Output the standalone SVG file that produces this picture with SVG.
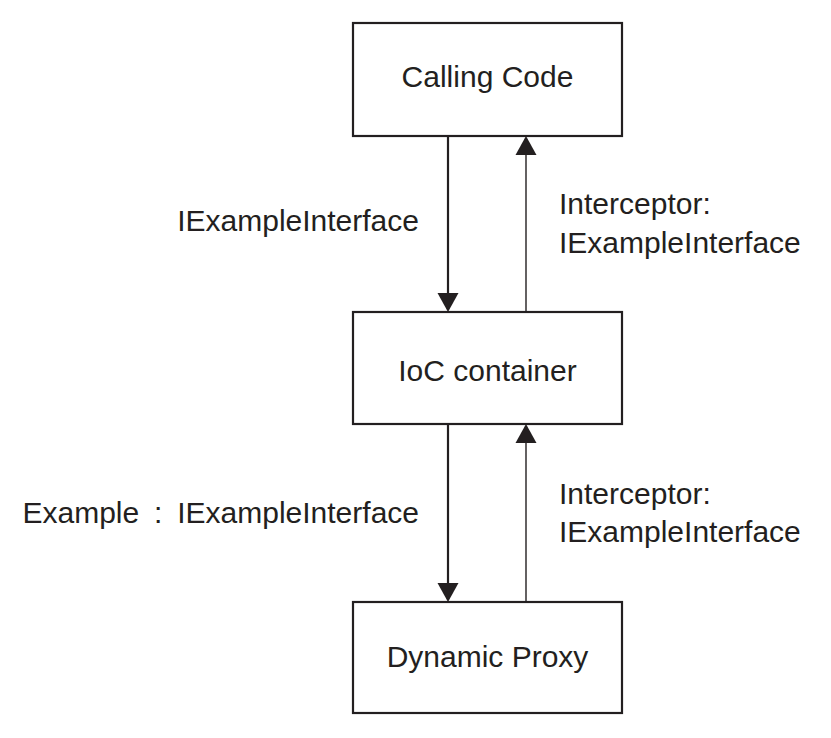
<svg xmlns="http://www.w3.org/2000/svg" width="831" height="738" viewBox="0 0 831 738">
<style>
.box{fill:#fff;stroke:#231f20;stroke-width:2.2}
.t{font-family:"Liberation Sans",Arial,sans-serif;font-size:30px;fill:#231f20}
.c{text-anchor:middle}
.down{stroke:#231f20;stroke-width:2.2;fill:none}
.up{stroke:#231f20;stroke-width:1.4;fill:none}
.head{fill:#231f20}
</style>
<rect width="831" height="738" fill="#fff"/>
<g id="calling-code">
<rect class="box" x="353" y="23" width="269" height="113"/>
<text class="t c" x="487.5" y="87">Calling Code</text>
</g>
<g id="ioc-container">
<rect class="box" x="353" y="312" width="269" height="112"/>
<text class="t c" x="487.5" y="381">IoC container</text>
</g>
<g id="dynamic-proxy">
<rect class="box" x="353" y="602" width="269" height="111"/>
<text class="t c" x="487.5" y="667">Dynamic Proxy</text>
</g>
<g id="connectors">
<line class="down" x1="448" y1="136" x2="448" y2="294"/>
<polygon class="head" points="437.5,293 458.5,293 448,312"/>
<line class="up" x1="526" y1="312" x2="526" y2="154"/>
<polygon class="head" points="515.5,155 536.5,155 526,136"/>
<line class="down" x1="448" y1="424" x2="448" y2="584"/>
<polygon class="head" points="437.5,583 458.5,583 448,602"/>
<line class="up" x1="526" y1="602" x2="526" y2="442"/>
<polygon class="head" points="515.5,443 536.5,443 526,424"/>
<text class="t" x="419" y="231" text-anchor="end">IExampleInterface</text>
<text class="t" x="559" y="214">Interceptor:</text>
<text class="t" x="559" y="253">IExampleInterface</text>
<text class="t" x="419" y="523" text-anchor="end" word-spacing="6.5">Example : IExampleInterface</text>
<text class="t" x="559" y="504">Interceptor:</text>
<text class="t" x="559" y="542">IExampleInterface</text>
</g>
</svg>
